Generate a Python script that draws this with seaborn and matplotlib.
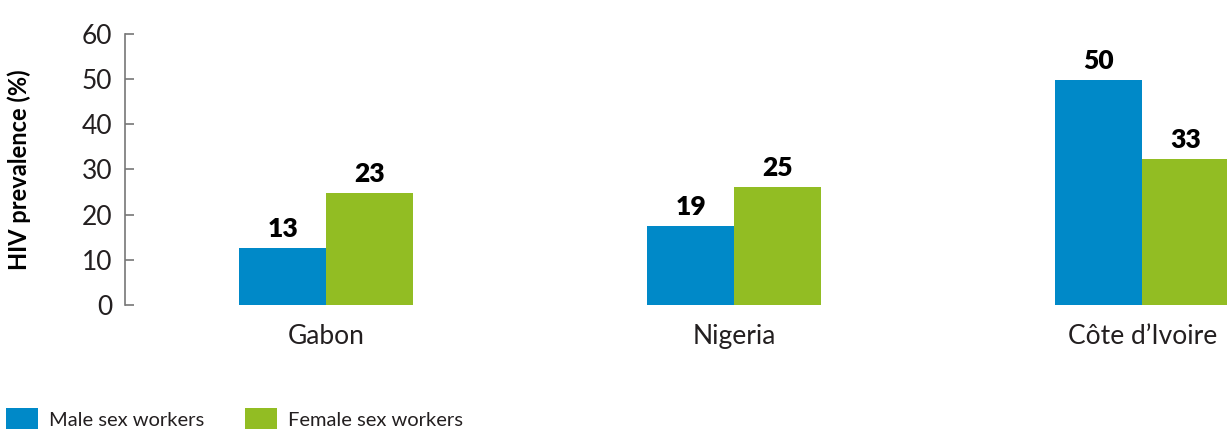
import pandas as pd
import seaborn as sns
import matplotlib.pyplot as plt

countries = ['Gabon', 'Nigeria', 'Côte d\u2019Ivoire']
groups = ['Male sex workers', 'Female sex workers']
# bar heights as drawn in the picture
male_values = [12.6, 17.5, 49.8]
female_values = [24.8, 26.1, 32.3]
# printed labels above the bars
male_labels = ['13', '19', '50']
female_labels = ['23', '25', '33']
colors = ['#0089C8', '#92BD23']

df = pd.DataFrame({
    'Country': countries * 2,
    'Group': [groups[0]] * 3 + [groups[1]] * 3,
    'Prevalence': male_values + female_values,
})

sns.set_style('white')
plt.rcParams['font.family'] = ['Lato', 'DejaVu Sans']
text_color = '#231F20'

fig = plt.figure(figsize=(12.27, 4.29), dpi=100)
ax = fig.add_axes([0.1019, 0.289, 0.8981, 0.6318])

sns.barplot(data=df, x='Country', y='Prevalence', hue='Group', hue_order=groups,
            palette=colors, saturation=1, width=0.426, gap=0, linewidth=0, ax=ax)

for container, labels in zip(ax.containers, [male_labels, female_labels]):
    ax.bar_label(container, labels=labels, padding=5, fontsize=19,
                 fontweight='heavy', color='black')

ax.set_ylim(0, 60)
ax.set_xlim(-0.493, 2.208)
ax.set_yticks(range(0, 61, 10))
ax.tick_params(axis='y', direction='in', length=6.5, width=1.2, color='#777777',
               labelsize=19, labelcolor=text_color, pad=9, left=True)
ax.tick_params(axis='x', length=0, labelsize=19, labelcolor=text_color, pad=14)

for side in ['top', 'right', 'bottom']:
    ax.spines[side].set_visible(False)
ax.spines['left'].set_color('#777777')
ax.spines['left'].set_linewidth(1.2)

ax.set_xlabel('')
ax.set_ylabel('HIV prevalence (%)', fontsize=17, fontweight='bold', color='black')
ax.yaxis.set_label_coords(-0.085, 0.5)

handles, labels = ax.get_legend_handles_labels()
ax.get_legend().remove()
leg = fig.legend(handles, labels, loc='lower left', bbox_to_anchor=(0.0, -0.016),
                 ncol=2, frameon=False, fontsize=14.5, handlelength=1.6,
                 handleheight=1.3, handletextpad=0.55, columnspacing=2.0,
                 borderaxespad=0.0, borderpad=0.3)
for t in leg.get_texts():
    t.set_color(text_color)

fig.savefig('out.png', dpi=100)
